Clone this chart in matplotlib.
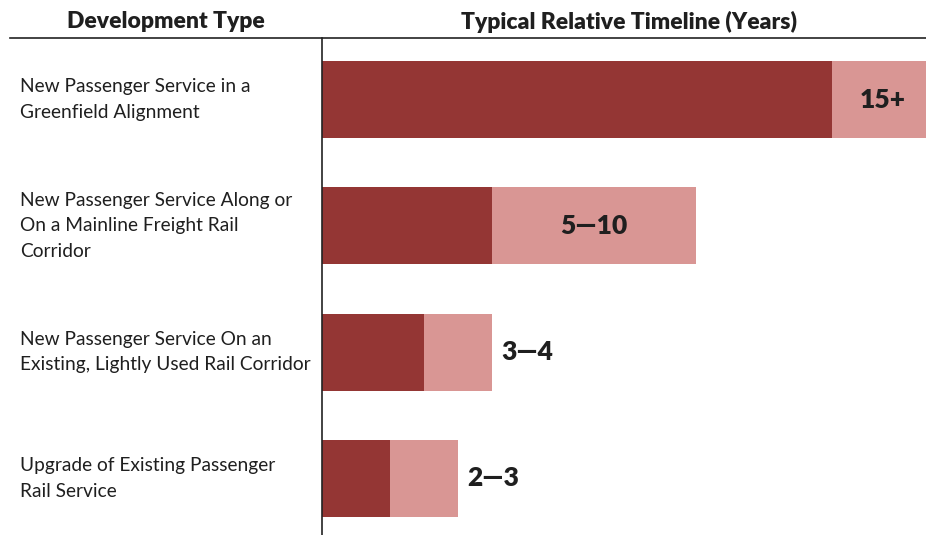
import matplotlib.pyplot as plt
import matplotlib.transforms as mtransforms
from matplotlib.lines import Line2D

plt.rcParams['font.family'] = ['Lato', 'DejaVu Sans']

categories = [
    "New Passenger Service in a\nGreenfield Alignment",
    "New Passenger Service Along or\nOn a Mainline Freight Rail\nCorridor",
    "New Passenger Service On an\nExisting, Lightly Used Rail Corridor",
    "Upgrade of Existing Passenger\nRail Service",
]
low = [15, 5, 3, 2]      # dark segment
extra = [3, 6, 2, 2]     # light segment
labels = ["15+", "5\u201410", "3\u20144", "2\u20143"]
inside = [True, True, False, False]

dark = "#943634"
light = "#D99694"
txt = "#1f1f1f"

fig = plt.figure(figsize=(9.26, 5.35), dpi=100)
ax = fig.add_axes([322 / 926, 0, 1 - 322 / 926, (535 - 38) / 535])

y = list(range(len(categories)))
ax.barh(y, low, height=0.61, color=dark, linewidth=0)
ax.barh(y, extra, left=low, height=0.61, color=light, linewidth=0)

ax.set_xlim(0, 604 / 34)
ax.set_ylim(3 + 56.5 / 126.3, -61.5 / 126.3)

for i in y:
    if inside[i]:
        ax.text(low[i] + extra[i] / 2, i, labels[i], ha='center', va='center',
                fontsize=19, fontweight='heavy', color=txt)
    else:
        ax.text(low[i] + extra[i] + 9 / 34, i, labels[i], ha='left', va='center',
                fontsize=19, fontweight='heavy', color=txt)

trans = mtransforms.blended_transform_factory(fig.transFigure, ax.transData)
for i, c in enumerate(categories):
    ax.text(20 / 926, i, c, transform=trans, ha='left', va='center',
            fontsize=13.8, color=txt, linespacing=1.6, clip_on=False)

for s in ['top', 'right', 'bottom']:
    ax.spines[s].set_visible(False)
ax.spines['left'].set_color('#222222')
ax.spines['left'].set_linewidth(1.2)
ax.set_xticks([])
ax.set_yticks([])

# header row
fig.text(166 / 926, 1 - 22 / 535, "Development Type", ha='center', va='center',
         fontsize=16.5, fontweight='heavy', color=txt)
fig.text(629 / 926, 1 - 22 / 535, "Typical Relative Timeline (Years)", ha='center',
         va='center', fontsize=16.5, fontweight='heavy', color=txt)
fig.add_artist(Line2D([10 / 926, 1], [1 - 37.5 / 535, 1 - 37.5 / 535],
                      transform=fig.transFigure, color='#222222', linewidth=1.2))

fig.savefig("out.png", dpi=100)
